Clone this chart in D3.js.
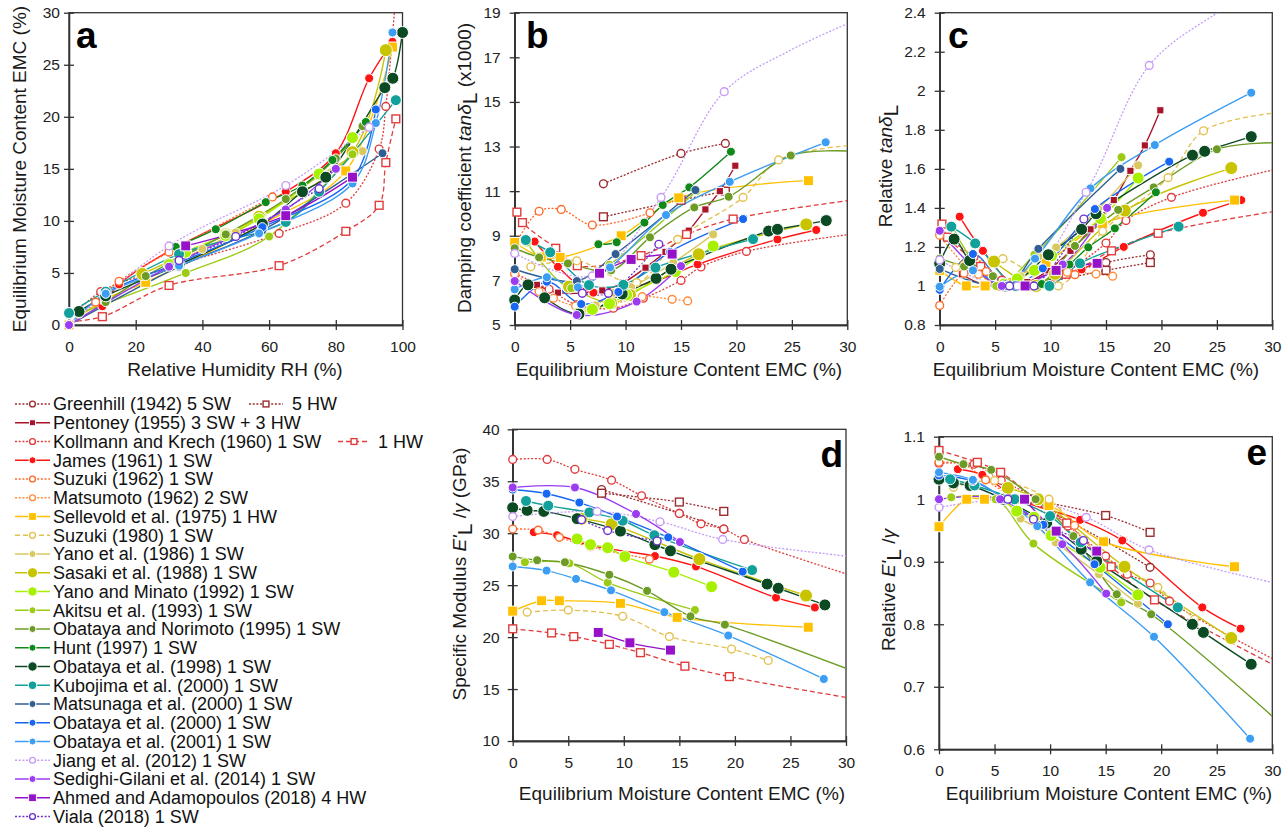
<!DOCTYPE html>
<html><head><meta charset="utf-8">
<script src="https://cdn.jsdelivr.net/npm/d3@7"></script>
<style>
body{margin:0;background:#fff}
svg{display:block;font-family:"Liberation Sans",Arial,sans-serif}
</style>
</head><body>
<svg id="chart" width="1288" height="828"></svg>
<script>
// ---------------- series definitions ----------------
const seriesNames = [
 "Greenhill (1942) 5 SW","5 HW","Pentoney (1955) 3 SW + 3 HW","Kollmann and Krech (1960) 1 SW","1 HW",
 "James (1961) 1 SW","Suzuki (1962) 1 SW","Matsumoto (1962) 2 SW","Sellevold et al. (1975) 1 HW","Suzuki (1980) 1 SW",
 "Yano et al. (1986) 1 SW","Sasaki et al. (1988) 1 SW","Yano and Minato (1992) 1 SW","Akitsu et al. (1993) 1 SW",
 "Obataya and Norimoto (1995) 1 SW","Hunt (1997) 1 SW","Obataya et al. (1998) 1 SW","Kubojima et al. (2000) 1 SW",
 "Matsunaga et al. (2000) 1 SW","Obataya et al. (2000) 1 SW","Obataya et al. (2001) 1 SW","Jiang et al. (2012) 1 SW",
 "Sedighi-Gilani et al. (2014) 1 SW","Ahmed and Adamopoulos (2018) 4 HW","Viala (2018) 1 SW"];
const seriesColors = [
 "#9b2d30","#9b2d30","#a8152b","#e03c3c","#e03c3c",
 "#ff1414","#ff6a2a","#ff8c3a","#ffc000","#e3c050",
 "#d9c85e","#c8c400","#a6f000","#9bcb14",
 "#6c9c25","#0f8a1a","#0b4a23","#12a09a",
 "#2f5e92","#1767f2","#3c9ef2","#c69cf6",
 "#9b3cf2","#9512c9","#6b30d0"];
const seriesDash = ["dot","dot","","dot","dash","","dot","dot","","dash","","","","","","","","","","","","dot","","","dot"];
const seriesMarker = ["oc","os","s","oc","os","c","oc","oc","s","oc","c","c","c","c","c","c","c","c","c","c","c","oc","c","s","oc"];
const seriesSize = [4.5,4.5,3.6,4.5,4.5,4.5,4.5,4.5,5,4.5,4.5,6.5,6,4.5,4.5,4.5,6,5.5,4.5,4.5,4.5,4.5,4.5,5,4.5];

// ---------------- panel a: RH (%) vs EMC (%) ----------------
// third element 0 = curve-only point (fitted extension, no marker)
const rhEmcA = [
 [],[],[],
 [[0,0.5,0],[9.5,3.2],[33,5.8],[63,8.8],[83,11.7],[93,16.9],[95,21],[97.8,31,0]],
 [[0,0.3,0],[10,0.8],[30,3.8],[63,5.7],[83,9.0],[93,11.5],[95,15.6],[98,19.8]],
 [[10,1.8],[15,3.9],[30,7.1],[65,12.8],[80,16.5],[90,23.7],[97,27.2]],
 [[0,0],[8,2.2],[15,4.2],[30,7.0],[61,12.3]],
 [],
 [[0,0],[11,2.5],[23,4.1],[58,9.7],[83,14.8],[97,26.7]],
 [],
 [[33,6.1],[40,7.3],[50,8.9],[58,10.5],[75,14.3],[88,16.7]],
 [[22,4.9],[47,8.7],[57,10.4],[85,16.6],[95,26.4]],
 [[30,5.8],[35,7.0],[47,8.6],[57,10.2],[75,14.5],[85,18.0]],
 [[3,1.1],[35,5.0],[60,8.5],[85,16.4]],
 [[0,0],[11,2.2],[23,4.7],[47,8.7],[65,12.1],[80,16],[88,19.1]],
 [[32,7.5],[44,9.2],[59,11.8],[70,13.4],[79,15.85],[89,19.5]],
 [[3,1.3],[11,2.8],[33,5.8],[58,9.7],[70,12.8],[77,14.2],[94.7,22.8],[97.1,23.7],[100,28.1]],
 [[0,1.15],[11,3.2],[33,6.8],[65,9.9],[75,12.8],[98,21.6]],
 [[0,0],[33,5.6],[58,9.1],[94,16.5]],
 [[0,0],[11,3.05],[33,6.0],[58,9.4],[85,14.0],[92,20.7]],
 [[0,0],[11,3.0],[33,5.7],[57,8.8],[85,13.6],[92,19.4],[97,28.1]],
 [[0,0],[30,7.6],[65,13.4],[90,19]],
 [[0,0],[30,5.6],[65,11.1],[80,15]],
 [[35,7.6],[65,10.5],[85,14.2]],
 [[33,6.2],[50,8.5],[75,13.1]]
];

// ---------------- panel b: EMC vs tan delta (x1000) ----------------
const tanDeltaB = [
 [[8,11.33],[15,12.69],[19,13.14]],
 [[8,9.85],[15,10.6],[19,11.0]],
 [[2,6.8],[3.9,6.45],[7.9,6.55],[9.8,6.9],[11.8,7.57],[13.6,8.28],[15.7,9.23],[17.2,10.18],[18.5,11.0],[19.9,12.14]],
 [[0,7.3],[3.1,6.6],[5.6,5.9],[8.9,5.75],[11.6,6.2],[15,7.0],[16.8,7.6],[20.9,8.3],[30,9.05,0]],
 [[0.2,10.06],[0.7,9.59],[3.7,8.44],[5.65,7.66],[11.4,8.11],[15.5,9.06],[19.7,9.75],[30,10.57,0]],
 [[1.8,8.74],[3.9,7.61],[7.1,6.45],[12.8,7.0],[16.5,7.72],[23.7,8.84],[27.2,9.26]],
 [[0,8.55],[2.2,10.1],[4.2,10.18],[7.0,9.48],[12.2,10.03]],
 [[0,7.3],[2.2,6.5],[3.5,6.2],[5.5,5.85],[8.5,5.9],[11.5,6.27],[14.2,6.15],[15.6,6.08]],
 [[0,8.7],[2.4,8.05],[4.1,8.03],[9.6,9.0],[14.8,10.7],[26.5,11.47]],
 [[1.45,7.61],[5.6,7.88],[11.0,6.9],[14.7,8.84],[20.6,10.72],[23.8,12.4],[30,13.04,0]],
 [[6.1,5.6],[7.3,5.88],[8.9,6.44],[10.5,6.7],[14.3,7.8],[17.9,9.06]],
 [[4.9,6.72],[8.7,5.97],[10.4,6.34],[16.6,8.17],[26.3,9.51]],
 [[5.8,5.55],[7.0,5.7],[8.55,5.95],[10.1,6.35],[14.5,7.4],[17.9,8.54]],
 [[1.1,8.7],[5.1,6.65],[8.55,7.7],[16.4,11.0]],
 [[0,8.44],[2.2,8.03],[4.8,7.76],[8.7,7.45],[12.2,8.93],[16.2,10.27],[19.3,10.75],[24.9,12.6],[30,12.8,0]],
 [[7.55,8.62],[9.2,8.71],[11.7,9.59],[13.35,10.38],[15.75,11.17],[19.5,12.77]],
 [[0,6.12],[1.2,6.8],[2.7,6.22],[5.8,5.49],[9.7,6.39],[12.75,7.09],[14.1,7.5],[22.9,9.21],[23.7,9.29],[28.1,9.68]],
 [[1.0,8.81],[3.2,8.26],[6.7,6.79],[9.8,6.8],[12.7,7.57],[21.5,8.85]],
 [[0,7.5],[5.6,6.97],[9.1,8.18],[16.3,11.05]],
 [[0,5.82],[2.9,6.94],[6.0,5.94],[9.35,6.48],[14,8.28],[20.6,9.75]],
 [[0,6.6],[2.9,7.14],[5.7,6.69],[8.6,7.58],[13.65,9.93],[19.4,11.42],[28.05,13.19]],
 [[0,8.21],[7.0,7.2],[13.2,10.72],[18.9,15.46],[24.8,17.3,0],[30,18.5,0]],
 [[0,6.97],[5.6,5.45],[11.0,6.05],[15.0,7.64]],
 [[7.65,7.32],[10.5,7.94],[14.2,8.18]],
 [[6.1,6.42],[8.45,6.42],[13.0,8.62]]
];

// ---------------- panel c: EMC vs relative tan delta ----------------
const relTanC = [
 [[8,1.0],[15,1.12],[19,1.16]],
 [[8,1.0],[15,1.08],[19,1.12]],
 [[2,1.06],[3.9,1.01],[7.9,1.02],[9.8,1.08],[11.8,1.18],[13.6,1.29],[15.7,1.44],[17.2,1.59],[18.5,1.72],[19.9,1.90]],
 [[0,1.27],[3.1,1.15],[5.6,1.03],[8.9,1.0],[11.6,1.08],[15,1.22],[16.8,1.335],[20.9,1.454],[30,1.594,0]],
 [[0.2,1.317],[0.7,1.25],[3.7,1.10],[5.65,1.0],[11.4,1.06],[15.5,1.18],[19.7,1.27],[30,1.38,0]],
 [[1.8,1.355],[3.9,1.18],[7.1,1.0],[12.8,1.085],[16.6,1.20],[23.75,1.375],[27.2,1.44]],
 [[0,0.90],[2.2,1.065],[4.2,1.074],[7.0,1.0],[12.2,1.058]],
 [[0,1.26],[2.2,1.11],[3.5,1.06],[5.5,1.0],[8.5,1.01],[11.5,1.07],[14.1,1.061],[15.6,1.05]],
 [[0,1.08],[2.4,1.0],[4.1,1.0],[9.6,1.12],[14.7,1.32],[26.6,1.44]],
 [[1.45,1.095],[5.7,1.14],[10.7,1.0],[14.7,1.28],[20.6,1.555],[23.8,1.795],[30,1.885,0]],
 [[6.1,1.0],[7.3,1.05],[8.9,1.15],[10.5,1.197],[14.3,1.394],[17.9,1.618]],
 [[4.9,1.125],[8.7,1.0],[10.4,1.062],[16.7,1.386],[26.3,1.604]],
 [[5.8,1.01],[7.0,1.036],[8.55,1.08],[10.1,1.155],[14.5,1.345],[17.9,1.553]],
 [[1.1,1.31],[5.1,1.0],[8.55,1.16],[16.4,1.66]],
 [[0,1.14],[2.2,1.10],[4.8,1.05],[8.7,1.0],[12.2,1.205],[16.1,1.39],[19.3,1.505],[25,1.70],[30,1.734,0]],
 [[7.55,1.0],[9.2,1.01],[11.7,1.11],[13.4,1.198],[15.8,1.295],[19.5,1.48]],
 [[0,1.115],[1.3,1.24],[2.7,1.13],[5.9,1.0],[9.8,1.16],[12.8,1.29],[14.1,1.37],[22.8,1.67],[23.9,1.69],[28.1,1.765]],
 [[1.05,1.304],[3.2,1.218],[6.85,1.0],[9.9,1.0],[12.65,1.116],[21.55,1.304]],
 [[0,1.087],[6.0,1.0],[8.9,1.19],[16.3,1.60]],
 [[0,0.98],[3.0,1.164],[6.1,1.0],[9.3,1.09],[14,1.394],[20.7,1.637]],
 [[0,0.996],[3.0,1.08],[5.9,1.0],[8.6,1.14],[13.6,1.50],[19.4,1.722],[28.1,1.99]],
 [[0,1.133],[7.0,1.0],[13.2,1.48],[18.9,2.13],[24.8,2.39,0],[30,2.55,0]],
 [[0,1.283],[5.6,1.0],[11.1,1.11],[15.1,1.40]],
 [[7.7,1.0],[10.5,1.08],[14.2,1.116]],
 [[6.3,1.0],[8.5,1.0],[13,1.343]]
];

// ---------------- panel d: EMC vs specific modulus (GPa) ----------------
const specModD = [
 [[8,34.2],[15,31.9],[19,30.4]],
 [[8,33.85],[15,33.0],[19,32.1]],
 [],
 [[0,37.1],[3.1,37.1],[5.6,36.15],[8.9,35.1],[11.6,33.6],[15,31.9],[16.95,30.9],[19,30.4],[20.85,29.4],[30,26.1,0]],
 [[0,20.8],[3.5,20.4],[5.5,20.05],[8.7,19.3],[11.5,18.5],[15.5,17.2],[19.5,16.2],[30,14.2,0]],
 [[1.9,30.1],[4,29.8],[7.1,28.8],[12.8,27.8],[16.5,26.8],[23.7,23.8],[27.2,22.85]],
 [[0,30.4],[2.3,30.3],[4.2,29.6],[7.0,28.7],[12.3,27.5]],
 [],
 [[0,22.5],[2.6,23.5],[4.2,23.5],[9.7,23.25],[14.8,21.9],[26.6,20.95]],
 [[1.3,22.4],[5.0,22.6],[9.9,22.0],[14.1,20.05],[19.7,18.85],[23.0,17.75]],
 [],
 [[6.2,31.4],[8.9,30.85],[16.8,27.5],[26.4,24.0]],
 [[5.8,29.45],[7.0,28.9],[8.55,28.6],[10.1,27.75],[14.5,26.25],[17.9,24.85]],
 [[1.1,27.2],[5.1,27.1],[8.55,25.25],[16.4,22.6]],
 [[0,27.75],[2.2,27.4],[4.7,27.2],[8.7,26.0],[12.1,24.45],[16.0,22.0],[19.1,21.2],[30,17.0,0]],
 [],
 [[0,32.45],[1.3,32.2],[2.8,32.1],[5.8,31.4],[9.7,30.2],[12.8,28.9],[14.2,28.3],[22.9,25.1],[23.9,24.7],[28.1,23.1]],
 [[1.2,33.1],[3.2,32.65],[6.9,32.0],[9.9,31.2],[12.75,29.8],[21.55,26.45]],
 [],
 [[0,34.2],[3.05,33.8],[6.0,32.95],[9.4,31.6],[14.0,29.6],[20.7,26.3]],
 [[0,26.8],[3.05,26.4],[5.7,25.6],[8.85,24.5],[13.65,22.4],[19.4,20.15],[28.0,15.97]],
 [[0,31.6],[7.6,32.1],[13.25,31.1],[18.9,29.4],[30,27.8,0]],
 [[0,34.4],[5.6,34.4],[11.1,31.85],[15.05,29.15]],
 [[7.7,20.45],[10.55,19.45],[14.2,18.75]],
 [[6.2,31.3],[8.55,30.25],[13.0,29.25]]
];

// ---------------- panel e: EMC vs relative specific modulus ----------------
const relModE = [
 [[8,1.0],[15,0.933],[19,0.891]],
 [[8,1.0],[15,0.974],[19,0.947]],
 [],
 [[0,1.057],[3.15,1.056],[5.6,1.03],[8.9,1.0],[11.6,0.957],[15,0.909],[16.95,0.88],[19,0.866],[20.75,0.837],[30,0.745,0]],
 [[0,1.078],[3.45,1.059],[5.55,1.043],[8.7,1.0],[11.5,0.962],[15.5,0.892],[19.4,0.839],[30,0.736,0]],
 [[1.7,1.048],[3.9,1.039],[7.1,1.0],[12.7,0.967],[16.5,0.934],[23.7,0.827],[27.15,0.793]],
 [[0,1.059],[2.2,1.056],[4.2,1.031],[7.0,1.0],[12.2,0.958]],
 [],
 [[0,0.956],[2.5,1.0],[4.1,1.0],[9.9,0.99],[14.8,0.932],[26.6,0.892]],
 [[1.3,1.019],[5.0,1.03],[9.9,1.0],[14.1,0.916],[19.7,0.859],[23.0,0.808]],
 [[6.05,1.0],[7.35,0.969],[8.85,0.955],[10.5,0.931],[14.4,0.88],[17.9,0.833]],
 [[6.2,1.018],[8.9,1.0],[16.7,0.892],[26.3,0.778]],
 [[5.8,1.0],[7.0,0.981],[8.55,0.971],[10.1,0.942],[14.5,0.891],[17.9,0.847]],
 [[1.1,1.003],[5.1,1.0],[8.5,0.929],[16.4,0.835]],
 [[0,1.068],[2.2,1.056],[4.7,1.047],[8.7,1.0],[12.1,0.941],[16.0,0.848],[19.1,0.816],[30,0.653,0]],
 [],
 [[0,1.032],[1.3,1.026],[2.8,1.022],[5.8,1.0],[9.7,0.962],[12.8,0.92],[14.2,0.901],[22.8,0.80],[23.8,0.787],[28.1,0.736]],
 [[1.0,1.032],[3.2,1.022],[6.8,1.0],[10,0.973],[12.75,0.931],[21.5,0.827]],
 [],
 [[0,1.038],[3.05,1.029],[6,1.0],[9.4,0.959],[14.0,0.896],[20.6,0.80]],
 [[0,1.043],[3.05,1.031],[5.9,1.0],[8.85,0.957],[13.6,0.867],[19.35,0.78],[28,0.617]],
 [[0,0.987],[7.6,1.0],[13.25,0.971],[18.9,0.919],[30,0.867,0]],
 [[0,1.0],[5.5,1.0],[11.1,0.928],[15.05,0.849]],
 [[7.7,1.0],[10.55,0.949],[14.2,0.917]],
 [[6.2,1.0],[8.5,0.968],[13,0.934]]
];

// ---------------- tick values ----------------
const rhTicks = [0,20,40,60,80,100];
const emcTicksA = [0,5,10,15,20,25,30];
const emcTicks = [0,5,10,15,20,25,30];
const tanTicks = [5,7,9,11,13,15,17,19];
const relTanTicks = [0.8,1,1.2,1.4,1.6,1.8,2,2.2,2.4];
const modTicks = [10,15,20,25,30,35,40];
const relModTicks = [0.6,0.7,0.8,0.9,1,1.1];

// ---------------- drawing ----------------
const svg = d3.select("#chart");
const defs = svg.append("defs");
const dashMap = {"": null, "dot": "2,1.7", "dash": "5,3"};
const fmt = d => String(+d.toFixed(2));

const panels = [
 {id:"a", data:rhEmcA, xd:[0,100], yd:[0,30], xt:rhTicks, yt:emcTicksA, l:69, r:402.5, t:12.7, b:325, pad:4,
  letter:{x:76,y:48,anchor:"start"}},
 {id:"b", data:tanDeltaB, xd:[0,30], yd:[5,19], xt:emcTicks, yt:tanTicks, l:514.7, r:847.3, t:12.7, b:325, pad:9,
  letter:{x:526,y:48,anchor:"start"}},
 {id:"c", data:relTanC, xd:[0,30], yd:[0.8,2.4], xt:emcTicks, yt:relTanTicks, l:939.7, r:1272.3, t:12.7, b:325, pad:9,
  letter:{x:948,y:48,anchor:"start"}},
 {id:"d", data:specModD, xd:[0,30], yd:[10,40], xt:emcTicks, yt:modTicks, l:512.7, r:846, t:429.3, b:741, pad:8,
  letter:{x:843,y:467,anchor:"end"}},
 {id:"e", data:relModE, xd:[0,30], yd:[0.6,1.1], xt:emcTicks, yt:relModTicks, l:939, r:1272.3, t:436.7, b:749.3, pad:9,
  letter:{x:1267,y:465,anchor:"end"}}
];

function drawMarker(sel, type, r, color, cx, cy) {
  if (type === "c" || type === "oc") {
    sel.append("circle").attr("cx", cx).attr("cy", cy).attr("r", type === "oc" ? r - 0.6 : r)
      .attr("fill", type === "oc" ? "#fff" : color)
      .attr("stroke", type === "oc" ? color : "#fff")
      .attr("stroke-width", type === "oc" ? 1.4 : 1);
  } else {
    const s = type === "os" ? r - 0.6 : r;
    sel.append("rect").attr("x", cx - s).attr("y", cy - s).attr("width", 2*s).attr("height", 2*s)
      .attr("fill", type === "os" ? "#fff" : color)
      .attr("stroke", type === "os" ? color : "#fff")
      .attr("stroke-width", type === "os" ? 1.4 : 1);
  }
}

panels.forEach(p => {
  const x = d3.scaleLinear().domain(p.xd).range([p.l, p.r]);
  const y = d3.scaleLinear().domain(p.yd).range([p.b, p.t]);
  const g = svg.append("g");
  defs.append("clipPath").attr("id", "clip-" + p.id).append("rect")
    .attr("x", p.l).attr("y", p.t).attr("width", p.r - p.l).attr("height", p.b - p.t);

  // frame
  g.append("rect").attr("x", p.l).attr("y", p.t).attr("width", p.r - p.l).attr("height", p.b - p.t)
    .attr("fill", "none").attr("stroke", "#333").attr("stroke-width", 1.3);

  // axes (outer ticks with labels, inner ticks without)
  g.append("g").attr("transform", `translate(0,${p.b})`)
    .call(d3.axisBottom(x).tickValues(p.xt).tickFormat(fmt).tickSizeInner(5).tickSizeOuter(0).tickPadding(11));
  g.append("g").attr("transform", `translate(0,${p.b})`)
    .call(d3.axisBottom(x).tickValues(p.xt).tickFormat("").tickSizeInner(-5).tickSizeOuter(0));
  g.append("g").attr("transform", `translate(${p.l},0)`)
    .call(d3.axisLeft(y).tickValues(p.yt).tickFormat(fmt).tickSizeInner(5).tickSizeOuter(0).tickPadding(p.pad));
  g.append("g").attr("transform", `translate(${p.l},0)`)
    .call(d3.axisLeft(y).tickValues(p.yt).tickFormat("").tickSizeInner(-5).tickSizeOuter(0));
  g.selectAll(".domain").attr("stroke", "#333").attr("stroke-width", 1.3);
  g.selectAll(".tick line").attr("stroke", "#333").attr("stroke-width", 1.3);
  g.selectAll(".tick text").attr("font-size", "15.5px").attr("fill", "#222")
    .attr("font-family", '"Liberation Sans", Arial, sans-serif');

  // series lines
  const line = d3.line().x(d => x(d[0])).y(d => y(d[1])).curve(d3.curveCatmullRom.alpha(0.5));
  const lg = g.append("g").attr("clip-path", `url(#clip-${p.id})`);
  p.data.forEach((pts, i) => {
    if (!pts || pts.length < 2) return;
    lg.append("path").attr("d", line(pts)).attr("fill", "none")
      .attr("stroke", seriesColors[i]).attr("stroke-width", seriesDash[i] ? 1.3 : 1.4)
      .attr("stroke-dasharray", dashMap[seriesDash[i]]);
  });
  // markers
  const mg = g.append("g");
  p.data.forEach((pts, i) => {
    (pts || []).forEach(d => {
      if (d.length > 2 && d[2] === 0) return;
      if (d[1] < p.yd[0] || d[1] > p.yd[1]) return;
      drawMarker(mg, seriesMarker[i], seriesSize[i], seriesColors[i], x(d[0]), y(d[1]));
    });
  });

  // panel letter
  svg.append("text").attr("x", p.letter.x).attr("y", p.letter.y).attr("text-anchor", p.letter.anchor)
    .attr("font-size", "37px").attr("font-weight", "bold").attr("fill", "#000").text(p.id);
});

// ---------------- axis titles ----------------
const titleSize = "19px";
function xTitle(cx, by, txt) {
  svg.append("text").attr("x", cx).attr("y", by).attr("text-anchor", "middle")
    .attr("font-size", titleSize).attr("fill", "#1a1a1a").text(txt);
}
xTitle(235, 376, "Relative Humidity RH (%)");
xTitle(679, 376, "Equilibrium Moisture Content EMC (%)");
xTitle(1096, 376, "Equilibrium Moisture Content EMC (%)");
xTitle(682, 800, "Equilibrium Moisture Content EMC (%)");
xTitle(1109, 800, "Equilibrium Moisture Content EMC (%)");

function yTitle(bx, cy, parts) {
  const t = svg.append("text").attr("transform", `translate(${bx},${cy}) rotate(-90)`)
    .attr("text-anchor", "middle").attr("font-size", titleSize).attr("fill", "#1a1a1a");
  parts.forEach(pt => {
    const s = t.append("tspan").text(pt.t);
    if (pt.i) s.attr("font-style", "italic");
    if (pt.dy) s.attr("dy", pt.dy);
    if (pt.fs) s.attr("font-size", pt.fs);
  });
}
yTitle(26, 169, [{t:"Equilibrium Moisture Content EMC (%)"}]);
yTitle(471, 168, [{t:"Damping coefficient "},{t:"tanδ", i:1},{t:"L", dy:6, fs:"21px"},{t:"  (x1000)", dy:-6}]);
yTitle(892, 166, [{t:"Relative "},{t:"tanδ", i:1},{t:"L", dy:6, fs:"21px"}]);
yTitle(466, 574, [{t:"Specific Modulus "},{t:"E'", i:1},{t:"L", dy:6, fs:"21px"},{t:" /", dy:-6},{t:"γ", i:1},{t:" (GPa)"}]);
yTitle(895, 590, [{t:"Relative "},{t:"E'", i:1},{t:"L", dy:6, fs:"21px"},{t:" /", dy:-6},{t:"γ", i:1}]);

// ---------------- legend ----------------
const legendRow = i => (i === 0 || i === 1) ? 0 : (i === 2 ? 1 : (i === 3 || i === 4) ? 2 : i - 2);
const legendLineX = i => i === 1 ? [249, 283] : (i === 4 ? [338, 370] : [15, 50]);
const legendTextX = i => i === 1 ? 292 : (i === 4 ? 378 : 53);
const lgd = svg.append("g");
seriesNames.forEach((name, i) => {
  const cy = 404 + legendRow(i) * 18.75;
  const [x0, x1] = legendLineX(i);
  lgd.append("line").attr("x1", x0).attr("x2", x1).attr("y1", cy).attr("y2", cy)
    .attr("stroke", seriesColors[i]).attr("stroke-width", seriesDash[i] ? 1.3 : 1.6)
    .attr("stroke-dasharray", dashMap[seriesDash[i]]);
  drawMarker(lgd, seriesMarker[i], Math.max(3, seriesSize[i] * 0.78), seriesColors[i], (x0 + x1) / 2, cy);
  lgd.append("text").attr("x", legendTextX(i)).attr("y", cy + 6.3)
    .attr("font-size", "18px").attr("fill", "#111").text(name);
});
</script>
</body></html>
